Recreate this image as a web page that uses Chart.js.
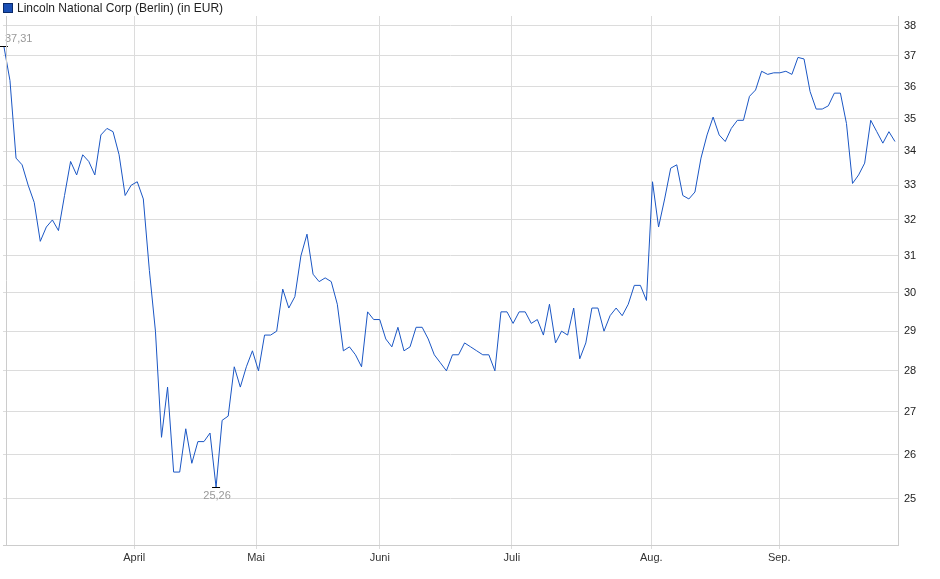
<!DOCTYPE html>
<html><head><meta charset="utf-8">
<script src="https://cdn.jsdelivr.net/npm/chart.js@4"></script>
<style>
html,body{margin:0;padding:0;background:#fff;}
#wrap{position:relative;width:940px;height:579px;}
#leg{position:absolute;left:3px;top:1px;font:12px "Liberation Sans",Arial,sans-serif;color:#222;display:flex;align-items:center;}
#leg span{display:inline-block;width:8px;height:8px;background:#1a4fb5;border:1px solid #0a2a6a;margin-right:4px;}
</style></head><body>
<div id="wrap"><canvas id="c" width="940" height="579"></canvas>
<div id="leg"><span></span>Lincoln National Corp (Berlin) (in EUR)</div></div>
<script>
const seriesName = "Lincoln National Corp (Berlin) (in EUR)";
const prices = [
37.31,36.2,33.8,33.6,33.0,32.5,31.4,31.8,32.0,31.7,32.7,33.7,33.3,33.9,33.7,33.3,34.5,34.7,34.6,33.9,32.7,33.0,33.1,32.6,30.6,29.0,26.4,27.6,25.6,25.6,26.6,25.8,26.3,26.3,26.5,25.26,26.8,26.9,28.1,27.6,28.1,28.5,28.0,28.9,
28.9,29.0,30.1,29.6,29.9,31.0,31.6,30.5,30.3,30.4,30.3,29.7,28.5,28.6,28.4,28.1,29.5,29.3,29.3,28.8,28.6,29.1,28.5,28.6,29.1,29.1,28.8,28.4,28.2,28.0,28.4,28.4,28.7,28.6,28.5,28.4,28.4,28.0,29.5,29.5,29.2,29.5,29.5,29.2,29.3,28.9,29.7,28.7,29.0,28.9,29.6,28.3,28.7,29.6,29.6,29.0,29.4,29.6,29.4,29.7,30.2,30.2,29.8,
33.1,31.8,32.6,33.5,33.6,32.7,32.6,32.8,33.8,34.5,35.05,34.5,34.3,34.7,34.95,34.95,35.7,35.9,36.5,36.4,36.45,36.45,36.5,36.4,36.95,36.9,35.85,35.3,35.3,35.4,35.8,35.8,34.85,33.05,33.3,33.65,34.95,34.6,34.25,34.6,34.3];
const monthLabels = ["April","Mai","Juni","Juli","Aug.","Sep."];
const monthIndex = [21.5,41.6,62,83.8,106.8,127.9];
const yTicks = [25,26,27,28,29,30,31,32,33,34,35,36,37,38];
const maxLabel = "37,31", minLabel = "25,26";

const pts = prices.map((v,i)=>({x:i,y:v}));
const hiI = prices.indexOf(Math.max(...prices)), loI = prices.indexOf(Math.min(...prices));
const marks = {id:'marks', afterDatasetsDraw(ch){
  const c=ch.ctx, xs=ch.scales.x, ys=ch.scales.y;
  c.save(); c.strokeStyle='#000'; c.lineWidth=1;
  c.font='11px "Liberation Sans",Arial,sans-serif'; c.fillStyle='#999';
  const hx=xs.getPixelForValue(hiI), hy=ys.getPixelForValue(prices[hiI]);
  c.beginPath(); c.moveTo(hx-4,Math.round(hy)+0.5); c.lineTo(hx+4,Math.round(hy)+0.5); c.stroke();
  c.textAlign='left'; c.textBaseline='bottom'; c.fillText(maxLabel,hx+1,hy-2);
  const lx=xs.getPixelForValue(loI), ly=ys.getPixelForValue(prices[loI]);
  c.beginPath(); c.moveTo(lx-4,Math.round(ly)+0.5); c.lineTo(lx+4,Math.round(ly)+0.5); c.stroke();
  c.textAlign='center'; c.textBaseline='top'; c.fillText(minLabel,lx+1,ly+3);
  c.strokeStyle='#ccc'; c.beginPath(); c.moveTo(ch.chartArea.left+3.5,ch.chartArea.top); c.lineTo(ch.chartArea.left+3.5,ch.chartArea.bottom); c.stroke();
  c.restore();
}};
new Chart(document.getElementById('c'),{
  type:'line',
  data:{datasets:[{label:seriesName,data:pts,borderColor:'#1a56c4',borderWidth:1,pointRadius:0,tension:0}]},
  options:{responsive:false,animation:false,
    layout:{padding:{top:16,left:3,right:0,bottom:0}},
    plugins:{legend:{display:false},tooltip:{enabled:false}},
    scales:{
      x:{type:'linear',min:-0.15,max:147.5,
        afterBuildTicks(a){a.ticks=monthIndex.map(v=>({value:v}));},
        afterFit(a){a.height=34;},
        ticks:{autoSkip:false,maxRotation:0,padding:2,color:'#333',font:{size:11,family:'"Liberation Sans",Arial'},
          callback(v){const k=monthIndex.indexOf(v);return k>=0?monthLabels[k]:'';}},
        grid:{color:'#dcdcdc',drawTicks:true,tickLength:4},border:{color:'#ccc'}},
      y:{type:'logarithmic',position:'right',min:24.0,max:38.33,
        afterBuildTicks(a){a.ticks=yTicks.map(v=>({value:v}));},
        afterFit(a){a.width=42;},
        ticks:{color:'#222',padding:6,font:{size:11,family:'"Liberation Sans",Arial'},callback:v=>String(v)},
        grid:{color:'#dcdcdc',tickLength:0},border:{color:'#ccc'}}
    }},
  plugins:[marks]
});
</script></body></html>
